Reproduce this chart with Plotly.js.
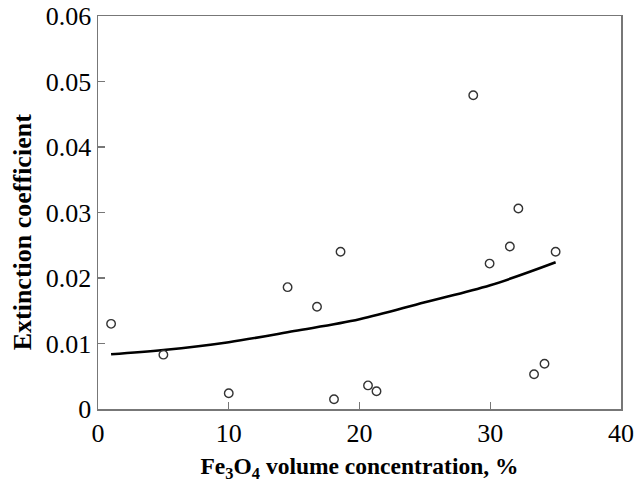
<!DOCTYPE html>
<html>
<head>
<meta charset="utf-8">
<script src="https://cdn.plot.ly/plotly-3.0.1.min.js"></script>
<style>html,body{margin:0;padding:0;background:#fff;}#chart{width:642px;height:483px;}</style>
</head>
<body>
<div id="chart"></div>
<script>
// Measured data points
const concX = [1, 5, 10, 14.5, 16.75, 18.55, 18.05, 20.65, 21.3, 28.7, 29.95, 31.5, 32.15, 33.35, 34.15, 35.0];
const extY  = [0.0130, 0.0083, 0.0024, 0.0186, 0.0156, 0.0240, 0.0015, 0.0036, 0.0027, 0.0479, 0.0222, 0.0248, 0.0306, 0.0053, 0.0069, 0.0240];
// Trend curve
const trendX = [1, 5, 10, 15, 20, 25, 30, 35];
const trendY = [0.00835, 0.0090, 0.0102, 0.0119, 0.0137, 0.0163, 0.0189, 0.0224];
// Tick labels
const xTicks = [0, 10, 20, 30, 40];
const yTickVals = [0, 0.01, 0.02, 0.03, 0.04, 0.05, 0.06];
const yTickText = ['0', '0.01', '0.02', '0.03', '0.04', '0.05', '0.06'];
const yTitle = 'Extinction coefficient';

const serif = 'Liberation Serif, Times New Roman, serif';
const traces = [
  {x: trendX, y: trendY, type: 'scatter', mode: 'lines',
   line: {color: '#000', width: 2.6, shape: 'spline'}, hoverinfo: 'skip'},
  {x: concX, y: extY, type: 'scatter', mode: 'markers',
   marker: {symbol: 'circle-open', size: 8.5, color: '#333', line: {width: 1.4, color: '#333'}}}
];
const layout = {
  width: 642, height: 483,
  margin: {l: 98, r: 21, t: 16, b: 74},
  paper_bgcolor: '#fff', plot_bgcolor: '#fff',
  showlegend: false,
  font: {family: serif, color: '#000'},
  xaxis: {
    range: [0, 40], tickvals: xTicks, ticks: 'inside', ticklen: 7, tickcolor: '#777', tickwidth: 1.3,
    showgrid: false, zeroline: false, showline: true, linecolor: '#777', linewidth: 1.5, mirror: true,
    tickfont: {family: serif, size: 26, color: '#000'},
    title: {text: '<b>Fe<sub>3</sub>O<sub>4</sub> volume concentration, %</b>', font: {family: serif, size: 23.5, color: '#000'}, standoff: 12}
  },
  yaxis: {
    range: [0, 0.06], tickvals: yTickVals, ticktext: yTickText, ticks: 'inside', ticklen: 7, tickcolor: '#777', tickwidth: 1.3,
    showgrid: false, zeroline: false, showline: true, linecolor: '#777', linewidth: 1.5, mirror: true,
    tickfont: {family: serif, size: 26, color: '#000'}
  },
  annotations: [{
    text: '<b>' + yTitle + '</b>', textangle: -90, showarrow: false,
    xref: 'paper', yref: 'paper', x: -0.145, y: 0.45, xanchor: 'center', yanchor: 'middle',
    font: {family: serif, size: 26, color: '#000'}
  }]
};
Plotly.newPlot('chart', traces, layout, {displayModeBar: false, staticPlot: true});
</script>
</body>
</html>
